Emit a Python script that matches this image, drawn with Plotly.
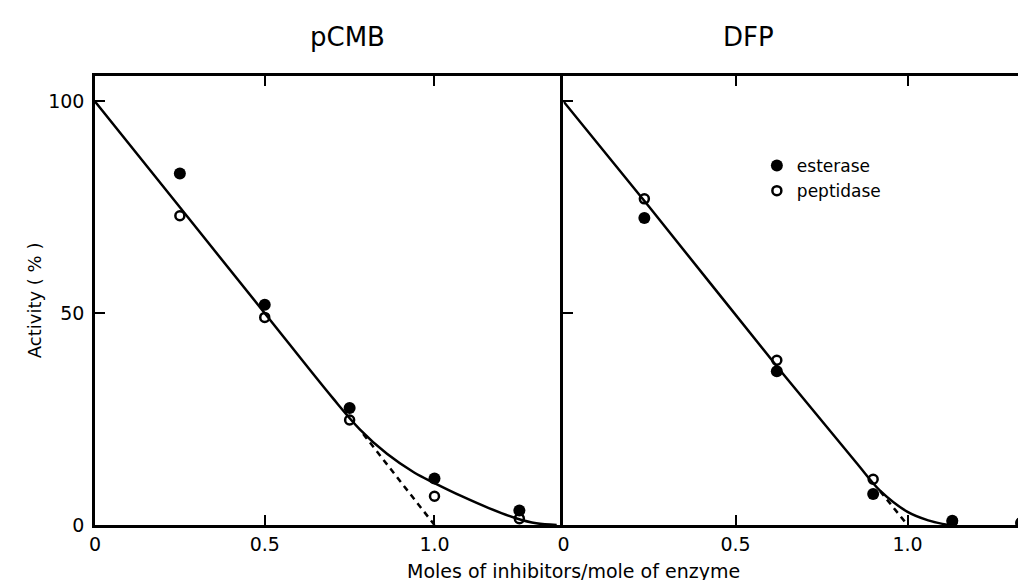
import plotly.graph_objects as go

# ---------------- data ----------------
# pCMB panel
pcmb_x = [0.25, 0.5, 0.75, 1.0, 1.25]
pcmb_esterase = [83, 52, 27.6, 11, 3.4]
pcmb_peptidase = [73, 49, 24.8, 6.8, 1.5]
pcmb_fit_x = [0, 0.25, 0.5, 0.7, 0.78, 0.86, 0.94, 1.0, 1.08, 1.16, 1.24, 1.3, 1.36]
pcmb_fit_y = [100, 75, 50, 30, 22.6, 16.8, 12.4, 9.9, 6.8, 4.0, 1.6, 0.4, 0]
pcmb_dash_x = [0.79, 1.0]
pcmb_dash_y = [21.5, 0]

# DFP panel
dfp_x = [0.235, 0.62, 0.9, 1.13, 1.33]
dfp_esterase = [72.5, 36.3, 7.3, 1.0, 0.5]
dfp_peptidase = [77, 38.9, 10.8, 0.8, 0.5]
dfp_fit_x = [0, 0.25, 0.62, 0.85, 0.92, 1.0, 1.06, 1.12]
dfp_fit_y = [100, 75, 37.5, 14.8, 8.1, 3.1, 1.1, 0]
dfp_dash_x = [0.92, 1.0]
dfp_dash_y = [8, 0]

x_ticks = [0, 0.5, 1.0]
x_ticktext = ["0", "0.5", "1.0"]
y_ticks = [0, 50, 100]
y_ticktext = ["0", "50", "100"]

FONT = "DejaVu Sans"
INK = "black"

fig = go.Figure()

def add_panel(xa, ya, xs, est, pep, fx, fy, dx, dy, legend):
    fig.add_trace(go.Scatter(x=fx, y=fy, mode="lines", line=dict(color=INK, width=2.5, shape="spline"),
                             xaxis=xa, yaxis=ya, showlegend=False, hoverinfo="skip"))
    fig.add_trace(go.Scatter(x=dx, y=dy, mode="lines", line=dict(color=INK, width=2.5, dash="6px,5px"),
                             xaxis=xa, yaxis=ya, showlegend=False, hoverinfo="skip"))
    fig.add_trace(go.Scatter(x=xs, y=pep, mode="markers", name="peptidase",
                             marker=dict(symbol="circle-open", size=9, color=INK, line=dict(width=2.5, color=INK)),
                             xaxis=xa, yaxis=ya, showlegend=legend, cliponaxis=False, legendrank=2))
    fig.add_trace(go.Scatter(x=xs, y=est, mode="markers", name="esterase",
                             marker=dict(symbol="circle", size=12, color=INK),
                             xaxis=xa, yaxis=ya, showlegend=legend, cliponaxis=False, legendrank=1))

add_panel("x", "y", pcmb_x, pcmb_esterase, pcmb_peptidase, pcmb_fit_x, pcmb_fit_y, pcmb_dash_x, pcmb_dash_y, False)
add_panel("x2", "y2", dfp_x, dfp_esterase, dfp_peptidase, dfp_fit_x, dfp_fit_y, dfp_dash_x, dfp_dash_y, True)

W, H = 1026, 580
L, R, T, B = 87, 3, 68, 63
pw, ph = W - L - R, H - T - B
split = (557 - L) / pw

def px(xp):
    return (xp - L) / pw

def py(yp):
    return (H - B - yp) / ph

axis_common = dict(showline=True, linecolor=INK, linewidth=2.5, showgrid=False, zeroline=False,
                   ticks="inside", ticklen=10, tickwidth=2, tickcolor=INK,
                   tickfont=dict(family=FONT, size=19, color=INK))

def ann(text, x, y, size, angle=0):
    return dict(text=text, x=px(x), y=py(y), xref="paper", yref="paper", showarrow=False,
                xanchor="center", yanchor="middle", textangle=angle,
                font=dict(family=FONT, size=size, color=INK))

fig.update_layout(
    width=W, height=H,
    margin=dict(l=L, r=R, t=T, b=B),
    paper_bgcolor="white", plot_bgcolor="white",
    font=dict(family=FONT, color=INK),
    xaxis=dict(domain=[0, split], range=[0, 1.38], tickvals=x_ticks, ticktext=x_ticktext,
               mirror="ticks", ticklabelstandoff=0, **axis_common),
    yaxis=dict(domain=[0, 1], range=[0, 106], tickvals=y_ticks, ticktext=y_ticktext,
               mirror=False, ticklabelstandoff=4, **axis_common),
    xaxis2=dict(domain=[split, 1], range=[0, 1.35], tickvals=x_ticks, ticktext=x_ticktext,
                mirror="ticks", ticklabelstandoff=0, anchor="y2", **axis_common),
    yaxis2=dict(domain=[0, 1], range=[0, 106], tickvals=[50, 100], showticklabels=False,
                mirror="ticks", anchor="x2", **axis_common),
    showlegend=True,
    legend=dict(x=px(751), y=py(140), xanchor="left", yanchor="top", bgcolor="rgba(0,0,0,0)",
                font=dict(family=FONT, size=17, color=INK), tracegroupgap=0, itemwidth=30,
                traceorder="normal"),
    annotations=[
        ann("pCMB", 340, 29, 26),
        ann("DFP", 743, 29, 26),
        ann("Moles of inhibitors/mole of enzyme", 567, 563, 19),
        ann("Activity ( % )", 26, 292, 18, -90),
    ],
)

fig.write_html("out.html")
